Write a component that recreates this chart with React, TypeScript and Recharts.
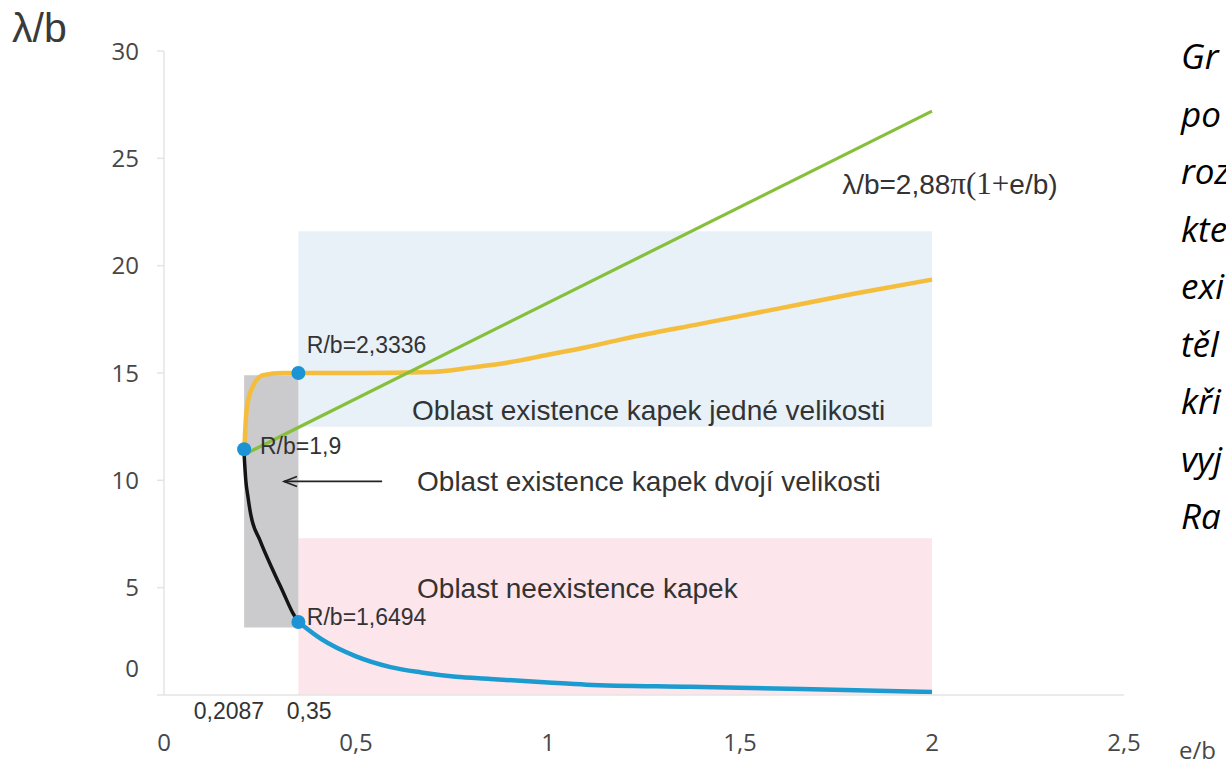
import React from 'react';
import {
  ComposedChart,
  Line,
  Scatter,
  XAxis,
  YAxis,
  ReferenceArea,
  ReferenceLine,
  ReferenceDot,
  Label,
} from 'recharts';

const xTicks = [0, 0.5, 1, 1.5, 2, 2.5];
const yTicks = [0, 5, 10, 15, 20, 25, 30];

// green straight line  λ/b = 2,88π(1+e/b), read at both ends
const greenLine = [
  { x: 0.2087, y: 11.2 },
  { x: 2, y: 27.2 },
];

const yellowCurve = [
  { x: 0.2087, y: 11.2 },
  { x: 0.212, y: 12.5 },
  { x: 0.216, y: 13.4 },
  { x: 0.232, y: 14.4 },
  { x: 0.258, y: 14.9 },
  { x: 0.31, y: 15.0 },
  { x: 0.35, y: 15.0 },
  { x: 0.5, y: 15.0 },
  { x: 0.7, y: 15.05 },
  { x: 0.8, y: 15.25 },
  { x: 0.9, y: 15.5 },
  { x: 1.0, y: 15.85 },
  { x: 1.1, y: 16.2 },
  { x: 1.2, y: 16.6 },
  { x: 1.4, y: 17.3 },
  { x: 1.6, y: 18.0 },
  { x: 1.8, y: 18.7 },
  { x: 2.0, y: 19.35 },
];

const blackCurve = [
  { x: 0.2087, y: 11.2 },
  { x: 0.213, y: 10.0 },
  { x: 0.218, y: 9.3 },
  { x: 0.226, y: 8.4 },
  { x: 0.25, y: 7.2 },
  { x: 0.284, y: 5.8 },
  { x: 0.31, y: 4.8 },
  { x: 0.336, y: 3.8 },
  { x: 0.35, y: 3.4 },
];

const blueCurve = [
  { x: 0.35, y: 3.4 },
  { x: 0.41, y: 2.6 },
  { x: 0.5, y: 1.8 },
  { x: 0.59, y: 1.3 },
  { x: 0.67, y: 1.05 },
  { x: 0.76, y: 0.85 },
  { x: 0.85, y: 0.75 },
  { x: 1.0, y: 0.58 },
  { x: 1.1, y: 0.48 },
  { x: 1.37, y: 0.38 },
  { x: 1.66, y: 0.28 },
  { x: 2.0, y: 0.14 },
];

const keyPoints = [
  { x: 0.2087, y: 11.45 },
  { x: 0.35, y: 15.0 },
  { x: 0.35, y: 3.4 },
];

// regions: one-size drops, no drops, two-size drops
const oneSizeArea = { x1: 0.35, x2: 2, y1: 12.5, y2: 21.6 };
const noDropArea = { x1: 0.35, x2: 2, y1: 0, y2: 7.3 };
const twoSizeArea = { x1: 0.2087, x2: 0.35, y1: 3.15, y2: 14.9 };

const pointNotes = [
  { x: 0.372, y: 16.3, text: 'R/b=2,3336' },
  { x: 0.25, y: 11.6, text: 'R/b=1,9' },
  { x: 0.372, y: 3.65, text: 'R/b=1,6494' },
];

const areaNotes = [
  { x: 0.646, y: 13.3, text: 'Oblast existence kapek jedné velikosti' },
  { x: 0.659, y: 9.95, text: 'Oblast existence kapek dvojí velikosti' },
  { x: 0.659, y: 4.98, text: 'Oblast neexistence kapek' },
];

const axisNotes = [
  { x: 0.169, y: -0.74, text: '0,2087' },
  { x: 0.378, y: -0.74, text: '0,35' },
];

const formulaAt = { x: 1.766, y: 23.8 };
const arrow = { from: 0.568, to: 0.3125, y: 9.95 };

const captionLines = ['Gr', 'po', 'roz', 'kte', 'exi', 'těl', 'kři', 'vyj', 'Ra'];

const SANS = "'Liberation Sans', Arial, sans-serif";
const CAL = "'Open Sans', sans-serif";

const fmt = (v: number) => String(v).replace('.', ',');

const YTick = (props: any) => {
  const { x, y, payload } = props;
  const lift = payload.value === 0 ? -27 : 0;
  return (
    <text x={x} y={y + lift} dy="0.36em" textAnchor="end" fill="#474747" fontSize={24} fontFamily={CAL}>
      {fmt(payload.value)}
    </text>
  );
};

const XTick = (props: any) => {
  const { x, y, payload } = props;
  return (
    <text x={x} y={y} dy="0.71em" textAnchor="middle" fill="#474747" fontSize={24} fontFamily={CAL}>
      {fmt(payload.value)}
    </text>
  );
};

const ArrowShape = (props: any) => {
  const { x1, y1, x2, y2 } = props;
  return (
    <g>
      <line x1={x1} y1={y1} x2={x2} y2={y2} stroke="#222" strokeWidth={1.6} />
      <path d={`M${x2 + 13},${y2 - 5} L${x2},${y2} L${x2 + 13},${y2 + 5}`} fill="none" stroke="#222" strokeWidth={1.6} />
    </g>
  );
};

export default function App() {
  return (
    <div
      style={{
        position: 'absolute',
        left: 0,
        top: 0,
        width: 1226,
        height: 766,
        overflow: 'hidden',
        background: '#fff',
      }}
    >
      <ComposedChart width={1226} height={766} margin={{ top: 51, right: 102, bottom: 41, left: 104 }}>
        <XAxis
          type="number"
          dataKey="x"
          domain={[0, 2.5]}
          ticks={xTicks}
          tick={<XTick />}
          tickLine={false}
          tickMargin={33}
          stroke="#e4e4e4"
          strokeWidth={1.5}
          height={30}
        >
          <Label
            content={() => (
              <text x={1179} y={759} fontSize={24} fill="#474747" fontFamily={CAL}>
                e/b
              </text>
            )}
          />
        </XAxis>
        <YAxis
          type="number"
          dataKey="y"
          domain={[0, 30]}
          ticks={yTicks}
          tick={<YTick />}
          tickSize={7}
          tickMargin={18}
          stroke="#e4e4e4"
          strokeWidth={1.5}
          width={60}
        >
          <Label
            content={() => (
              <text x={12} y={42} fontSize={41} fill="#3a3a3a" fontFamily={SANS}>
                λ/b
              </text>
            )}
          />
        </YAxis>

        <ReferenceArea {...oneSizeArea} fill="#e8f0f8" fillOpacity={1} stroke="none" ifOverflow="visible" />
        <ReferenceArea {...noDropArea} fill="#fde5ec" fillOpacity={1} stroke="none" ifOverflow="visible" />
        <ReferenceArea {...twoSizeArea} fill="#cbcacd" fillOpacity={1} stroke="none" ifOverflow="visible" />

        <Line data={yellowCurve} dataKey="y" type="monotone" stroke="#f5bd3c" strokeWidth={4.5} dot={false} activeDot={false} isAnimationActive={false} />
        <Line data={blackCurve} dataKey="y" type="monotone" stroke="#141414" strokeWidth={3.5} dot={false} activeDot={false} isAnimationActive={false} />
        <Line data={blueCurve} dataKey="y" type="monotone" stroke="#1b9bcf" strokeWidth={4.5} dot={false} activeDot={false} isAnimationActive={false} />
        <Line data={greenLine} dataKey="y" type="linear" stroke="#86bf3a" strokeWidth={3.2} dot={false} activeDot={false} isAnimationActive={false} />
        <Scatter
          data={keyPoints}
          dataKey="y"
          isAnimationActive={false}
          shape={(p: any) => <circle cx={p.cx} cy={p.cy} r={7} fill="#1b93d4" />}
        />

        <ReferenceLine
          segment={[
            { x: arrow.from, y: arrow.y },
            { x: arrow.to, y: arrow.y },
          ]}
          ifOverflow="visible"
          shape={<ArrowShape />}
        />

        {pointNotes.map((n) => (
          <ReferenceDot
            key={n.text}
            x={n.x}
            y={n.y}
            r={0}
            ifOverflow="visible"
            shape={(p: any) => (
              <text x={p.cx} y={p.cy} dy="0.36em" fontSize={23} fill="#333" fontFamily={SANS}>
                {n.text}
              </text>
            )}
          />
        ))}
        {areaNotes.map((n) => (
          <ReferenceDot
            key={n.text}
            x={n.x}
            y={n.y}
            r={0}
            ifOverflow="visible"
            shape={(p: any) => (
              <text x={p.cx} y={p.cy} dy="0.36em" fontSize={28} fill="#333" fontFamily={SANS}>
                {n.text}
              </text>
            )}
          />
        ))}
        {axisNotes.map((n) => (
          <ReferenceDot
            key={n.text}
            x={n.x}
            y={n.y}
            r={0}
            ifOverflow="visible"
            shape={(p: any) => (
              <text x={p.cx} y={p.cy} dy="0.36em" textAnchor="middle" fontSize={23} fill="#333" fontFamily={SANS}>
                {n.text}
              </text>
            )}
          />
        ))}
        <ReferenceDot
          x={formulaAt.x}
          y={formulaAt.y}
          r={0}
          ifOverflow="visible"
          shape={(p: any) => (
            <text x={p.cx} y={p.cy} dy="0.36em" fontSize={28} fill="#333" fontFamily={SANS}>
              λ/b=2,88
              <tspan fontFamily="'Liberation Serif', serif" fontSize={31}>π(1+</tspan>
              e/b)
            </text>
          )}
        />
      </ComposedChart>

      <div
        style={{
          position: 'absolute',
          left: 1181,
          top: 27,
          fontFamily: CAL,
          fontStyle: 'italic',
          fontSize: 35,
          lineHeight: '57.5px',
          color: '#000',
          whiteSpace: 'nowrap',
        }}
      >
        {captionLines.map((t) => (
          <div key={t}>{t}</div>
        ))}
      </div>
    </div>
  );
}
